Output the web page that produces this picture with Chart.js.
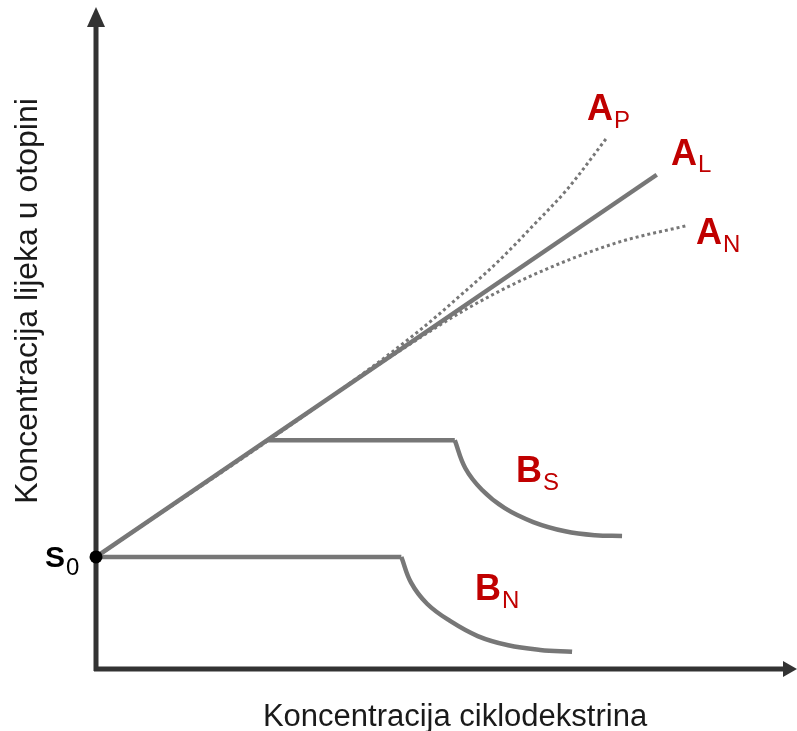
<!DOCTYPE html>
<html>
<head>
<meta charset="utf-8">
<script src="https://cdn.jsdelivr.net/npm/chart.js@4.4.1/dist/chart.umd.min.js"></script>
<style>
  body { margin: 0; background: #fff; }
</style>
</head>
<body>
<canvas id="phaseChart" width="797" height="731"></canvas>
<script>
// values, in axis units (0..100 on both axes)
const s0 = [[0, 17]];
const alPoints = [[0, 17], [80.8, 75.0]];
const apPoints = [[0, 17], [33.7, 41.2], [46.3, 51.1], [53.5, 57.6], [58.2, 62.1], [63.0, 67.3], [67.9, 72.8], [73.6, 80.6]];
const anPoints = [[0, 17], [33.7, 41.2], [43.8, 48.3], [53.5, 54.7], [63.0, 59.8], [75.1, 64.7], [85.2, 67.3]];
const bsPlateau = [[24.8, 34.7], [51.7, 34.7]];
const bsDrop = [[51.7, 34.7], [53.2, 30.5], [55.6, 27.2], [58.9, 24.4], [63.0, 22.3], [67.6, 20.9], [71.9, 20.3], [75.8, 20.2]];
const bnPlateau = [[0, 17], [44.0, 17]];
const bnDrop = [[44.0, 17.0], [45.4, 13.1], [47.7, 9.9], [51.0, 7.3], [55.0, 5.0], [59.4, 3.6], [64.0, 2.9], [68.6, 2.6]];

const xTitle = "Koncentracija ciklodekstrina";
const yTitle = "Koncentracija lijeka u otopini";

const lineGrey = "#777777";
const labelRed = "#c00000";

const toXY = (pts) => pts.map(p => ({ x: p[0], y: p[1] }));

const solid = (pts) => ({
    data: toXY(pts),
    borderColor: lineGrey,
    borderWidth: 4.5,
    pointRadius: 0,
    tension: 0,
    clip: false,
});

const curve = (pts) => ({
    ...solid(pts),
    tension: 0.4,
});

const dotted = (pts) => ({
    ...solid(pts),
    cubicInterpolationMode: "monotone",
    borderWidth: 3,
    borderDash: [3, 3],
    order: 1,
});

// axes with arrow heads and all labels
const decorations = {
    id: "decorations",
    beforeDatasetsDraw(chart) {
        const ctx = chart.ctx;
        const x0 = chart.scales.x.getPixelForValue(0);
        const y0 = chart.scales.y.getPixelForValue(0);
        ctx.save();
        ctx.strokeStyle = "#333333";
        ctx.fillStyle = "#333333";
        ctx.lineWidth = 5;
        ctx.beginPath();
        ctx.moveTo(x0, y0 + 2);
        ctx.lineTo(x0, 24);
        ctx.moveTo(x0 - 2, y0);
        ctx.lineTo(786, y0);
        ctx.stroke();
        ctx.beginPath();
        ctx.moveTo(x0, 7);
        ctx.lineTo(x0 - 9, 27);
        ctx.lineTo(x0 + 9, 27);
        ctx.closePath();
        ctx.fill();
        ctx.beginPath();
        ctx.moveTo(797, y0);
        ctx.lineTo(783, y0 - 8);
        ctx.lineTo(783, y0 + 8);
        ctx.closePath();
        ctx.fill();
        ctx.restore();
    },
    afterDraw(chart) {
        const ctx = chart.ctx;
        const font = "'Liberation Sans', Arial, sans-serif";
        ctx.save();
        ctx.fillStyle = "#1a1a1a";
        ctx.textBaseline = "alphabetic";
        ctx.textAlign = "center";
        ctx.font = "31px " + font;
        ctx.fillText(xTitle, 455, 726);
        ctx.translate(37, 301);
        ctx.rotate(-Math.PI / 2);
        ctx.font = "32px " + font;
        ctx.fillText(yTitle, 0, 0);
        ctx.restore();

        const subLabel = (main, sub, x, y, ySub, color, mainSize, subSize) => {
            ctx.save();
            ctx.fillStyle = color;
            ctx.textAlign = "left";
            ctx.font = "bold " + mainSize + "px " + font;
            ctx.fillText(main, x, y);
            const w = ctx.measureText(main).width;
            ctx.font = subSize + "px " + font;
            ctx.fillText(sub, x + w + 1, ySub);
            ctx.restore();
        };
        subLabel("A", "P", 587, 120, 128, labelRed, 36, 24);
        subLabel("A", "L", 671, 165, 172, labelRed, 36, 24);
        subLabel("A", "N", 696, 244, 252, labelRed, 36, 24);
        subLabel("B", "S", 516, 482, 490, labelRed, 36, 24);
        subLabel("B", "N", 475, 600, 608, labelRed, 36, 24);
        subLabel("S", "0", 45, 567, 575, "#000000", 30, 24);
    },
};

new Chart(document.getElementById("phaseChart"), {
    type: "line",
    data: {
        datasets: [
            solid(alPoints),
            dotted(apPoints),
            dotted(anPoints),
            solid(bsPlateau),
            curve(bsDrop),
            solid(bnPlateau),
            curve(bnDrop),
            {
                data: toXY(s0),
                showLine: false,
                pointRadius: 6.5,
                pointBackgroundColor: "#000000",
                pointBorderWidth: 0,
                clip: false,
                order: -1,
            },
        ],
    },
    options: {
        responsive: false,
        animation: false,
        devicePixelRatio: 1,
        events: [],
        layout: {
            padding: { left: 96, right: 7, top: 10, bottom: 62 },
        },
        scales: {
            x: { type: "linear", min: 0, max: 100, display: false },
            y: { type: "linear", min: 0, max: 100, display: false },
        },
        plugins: {
            legend: { display: false },
            tooltip: { enabled: false },
        },
    },
    plugins: [decorations],
});
</script>
</body>
</html>
